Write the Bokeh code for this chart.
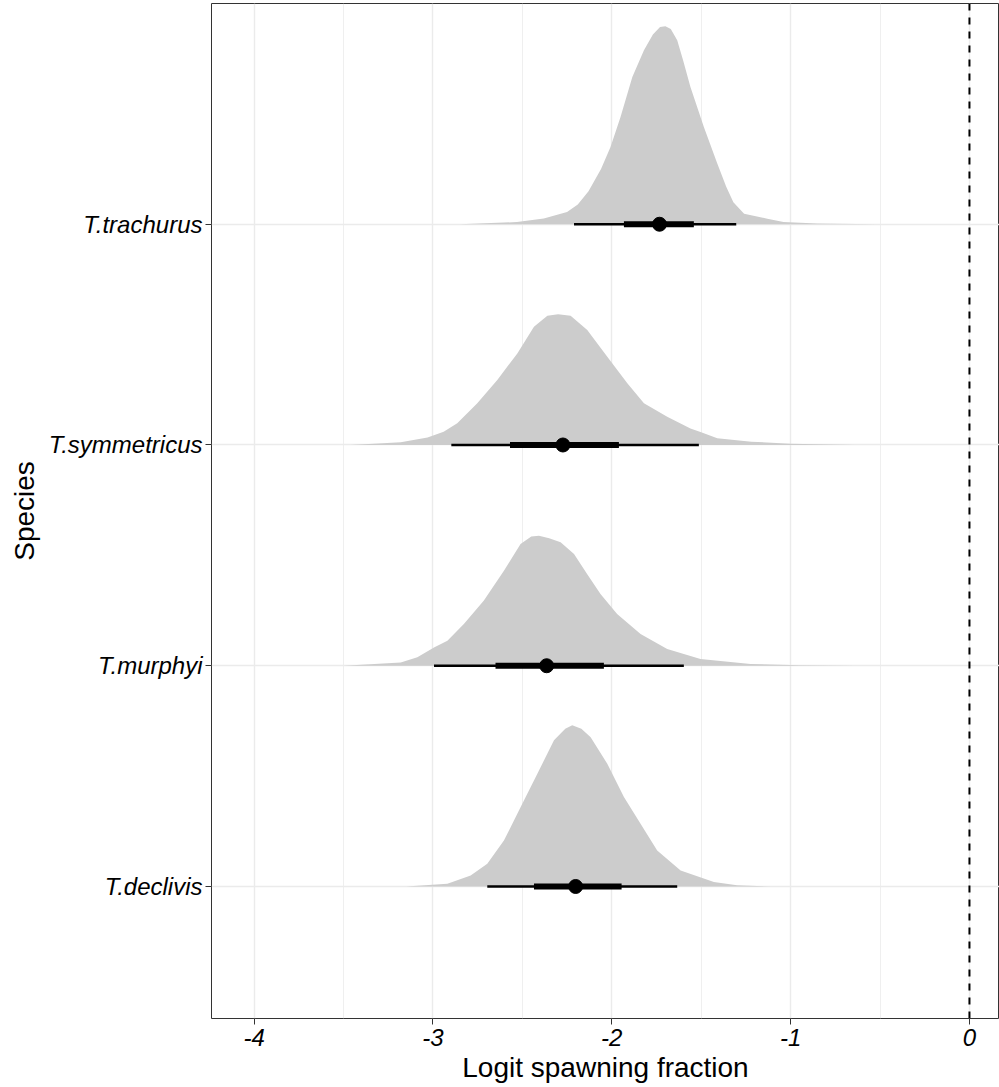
from bokeh.plotting import figure
from bokeh.models import Range1d, FixedTicker, Span
from bokeh.embed import file_html
from bokeh.resources import INLINE

# ---- data ----
species = ["T.declivis", "T.murphyi", "T.symmetricus", "T.trachurus"]
species_pos = [1, 2, 3, 4]

# density outlines (x in logit units, h = height in category units)
trachurus_x = [-2.85, -2.53, -2.38, -2.25, -2.19, -2.13, -2.06, -2.007, -1.951, -1.885, -1.82, -1.77,
               -1.73, -1.70, -1.67, -1.634, -1.60, -1.56, -1.485, -1.41, -1.36, -1.32, -1.26, -1.13,
               -1.04, -0.85, -0.52]
trachurus_h = [0.0, 0.01, 0.026, 0.056, 0.09, 0.15, 0.25, 0.35, 0.486, 0.667, 0.788, 0.86,
               0.893, 0.897, 0.885, 0.834, 0.74, 0.622, 0.441, 0.275, 0.17, 0.10, 0.047, 0.025,
               0.01, 0.003, 0.0]

symmetricus_x = [-3.46, -3.18, -3.03, -2.94, -2.864, -2.752, -2.64, -2.528, -2.435, -2.36, -2.30, -2.23,
                 -2.137, -2.025, -1.913, -1.82, -1.69, -1.56, -1.50, -1.41, -1.22, -1.0, -0.78, -0.64]
symmetricus_h = [0.0, 0.013, 0.034, 0.06, 0.098, 0.189, 0.295, 0.415, 0.536, 0.585, 0.592, 0.585,
                 0.521, 0.40, 0.28, 0.189, 0.128, 0.075, 0.058, 0.03, 0.015, 0.006, 0.002, 0.0]

murphyi_x = [-3.5, -3.18, -3.087, -2.994, -2.919, -2.827, -2.715, -2.603, -2.51, -2.45, -2.407, -2.35,
             -2.286, -2.211, -2.137, -2.063, -1.97, -1.839, -1.69, -1.504, -1.224, -0.95, -0.64]
murphyi_h = [0.0, 0.015, 0.038, 0.083, 0.113, 0.189, 0.295, 0.43, 0.551, 0.585, 0.589, 0.578,
             0.559, 0.506, 0.415, 0.325, 0.234, 0.144, 0.076, 0.030, 0.008, 0.002, 0.0]

declivis_x = [-3.15, -2.919, -2.789, -2.696, -2.603, -2.51, -2.416, -2.323, -2.26, -2.221, -2.17,
              -2.118, -2.025, -1.932, -1.839, -1.746, -1.615, -1.429, -1.3, -1.11]
declivis_h = [0.0, 0.012, 0.05, 0.103, 0.208, 0.359, 0.511, 0.662, 0.715, 0.730, 0.715,
              0.676, 0.556, 0.405, 0.284, 0.163, 0.072, 0.020, 0.006, 0.0]

# point + intervals (order: declivis, murphyi, symmetricus, trachurus)
point_est = [-2.202, -2.364, -2.273, -1.733]
outer_lo = [-2.696, -2.994, -2.897, -2.211]
outer_hi = [-1.634, -1.597, -1.513, -1.304]
inner_lo = [-2.435, -2.65, -2.569, -1.932]
inner_hi = [-1.945, -2.044, -1.96, -1.541]

x_ticks = [-4, -3, -2, -1, 0]
x_tick_labels = ["-4", "-3", "-2", "-1", "0"]
x_minor = [-3.5, -2.5, -1.5, -0.5]

densities = [(declivis_x, declivis_h), (murphyi_x, murphyi_h),
             (symmetricus_x, symmetricus_h), (trachurus_x, trachurus_h)]

FONT = "Liberation Sans"

p = figure(width=999, height=1087, output_backend="svg", toolbar_location=None,
           x_range=Range1d(-4.238, 0.168), y_range=Range1d(0.402, 5.0),
           min_border_left=211, min_border_right=0, min_border_top=3, min_border_bottom=69)

p.background_fill_color = "white"
p.border_fill_color = "white"
p.outline_line_color = "#333333"
p.outline_line_width = 1

# grids
p.xgrid.ticker = FixedTicker(ticks=x_ticks, minor_ticks=x_minor)
p.xgrid.grid_line_color = "#EBEBEB"
p.xgrid.grid_line_width = 1.4
p.xgrid.minor_grid_line_color = "#EBEBEB"
p.xgrid.minor_grid_line_width = 0.8
p.ygrid.ticker = FixedTicker(ticks=species_pos)
p.ygrid.grid_line_color = "#EBEBEB"
p.ygrid.grid_line_width = 1.4

# densities
for (xs, hs), base in zip(densities, species_pos):
    p.varea(x=xs, y1=[base] * len(xs), y2=[base + h for h in hs], fill_color="#CCCCCC")

# intervals
p.segment(x0=outer_lo, y0=species_pos, x1=outer_hi, y1=species_pos, line_color="black", line_width=2.6)
p.segment(x0=inner_lo, y0=species_pos, x1=inner_hi, y1=species_pos, line_color="black", line_width=6)
p.scatter(x=point_est, y=species_pos, size=14, fill_color="black", line_color="black")

# reference line
p.add_layout(Span(location=0, dimension="height", line_color="black", line_width=2, line_dash="7 7"))

# axes
p.xaxis.ticker = FixedTicker(ticks=x_ticks)
p.xaxis.major_label_overrides = dict(zip(x_ticks, x_tick_labels))
p.yaxis.ticker = FixedTicker(ticks=species_pos)
p.yaxis.major_label_overrides = dict(zip(species_pos, species))

for ax in (p.xaxis, p.yaxis):
    ax.axis_line_color = None
    ax.major_tick_line_color = "#333333"
    ax.major_tick_line_width = 1
    ax.major_tick_out = 6
    ax.major_tick_in = 0
    ax.minor_tick_line_color = None
    ax.major_label_text_font = FONT
    ax.major_label_text_font_style = "italic"
    ax.major_label_text_font_size = "24px"
    ax.major_label_text_color = "black"
    ax.axis_label_text_font = FONT
    ax.axis_label_text_font_style = "normal"
    ax.axis_label_text_font_size = "28px"
    ax.axis_label_text_color = "black"

p.xaxis.axis_label = "Logit spawning fraction"
p.yaxis.axis_label = "Species"
p.xaxis.major_label_standoff = 4
p.xaxis.axis_label_standoff = 3
p.yaxis.major_label_standoff = 3
p.yaxis.axis_label_standoff = 6

open("out.html", "w").write(file_html(p, INLINE))
